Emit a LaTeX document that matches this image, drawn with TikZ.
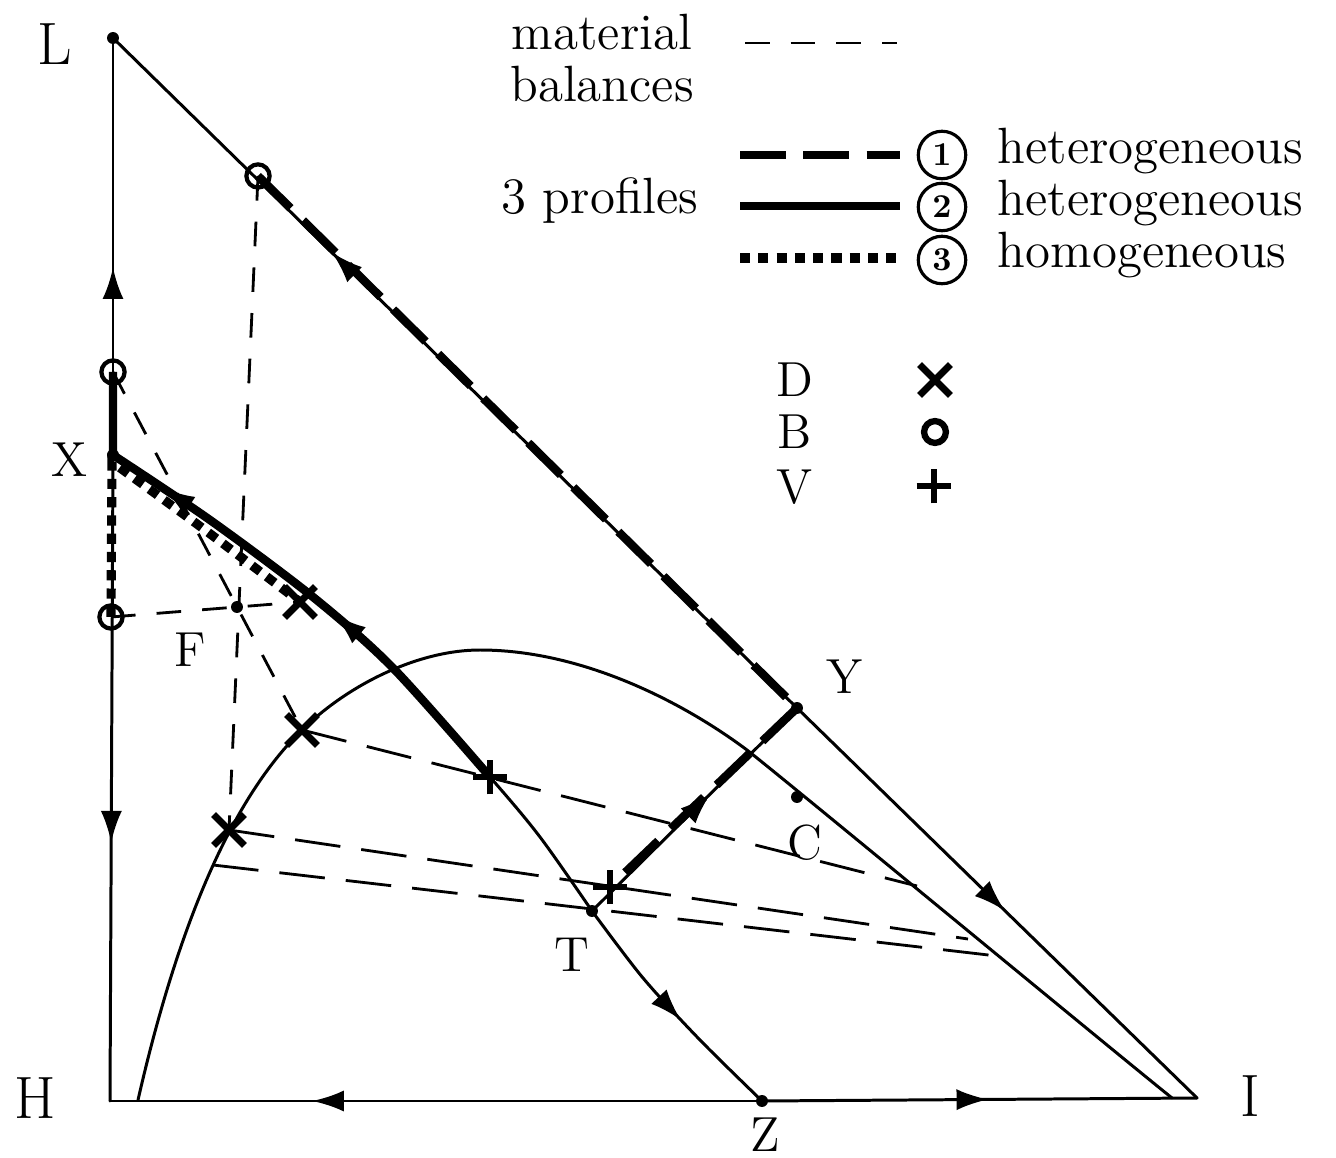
\documentclass[tikz,border=0pt]{standalone}
\usepackage{tikz}
\usetikzlibrary{arrows.meta,shapes.misc,decorations.markings}

\begin{document}
\begin{tikzpicture}[
  x=0.01cm, y=-0.01cm,
  sideln/.style   = {line width=0.85pt, line cap=round},
  bal/.style      = {line width=0.8pt, dash pattern=on 7pt off 6pt},
  tie/.style      = {line width=0.8pt, dash pattern=on 13pt off 6pt},
  profA/.style    = {line width=2.4pt, dash pattern=on 13pt off 5pt},
  profB/.style    = {line width=2.4pt},
  profC/.style    = {line width=2.6pt, dash pattern=on 2.9pt off 2.3pt},
  dot/.style      = {circle, fill, inner sep=0pt, minimum size=3.4pt},
  bmark/.style    = {circle, draw, line width=1.2pt, inner sep=0pt, minimum size=6.6pt},
  dmark/.style    = {cross out, draw, line width=2pt, inner sep=0pt, minimum size=6.8pt},
  vmark/.style    = {cross out, draw, rotate=45, line width=1.8pt, inner sep=0pt, minimum size=5.2pt},
  numc/.style     = {circle, draw, line width=0.9pt, inner sep=0pt, minimum size=13.5pt,
                     font=\fontsize{9.5}{9.5}\selectfont\bfseries},
  lbl/.style      = {font=\fontsize{14}{16}\selectfont, inner sep=0pt},
  biglbl/.style   = {font=\fontsize{17}{20}\selectfont, inner sep=0pt},
  legtext/.style  = {font=\fontsize{14.5}{14.8}\selectfont, inner sep=0pt},
  midarrow/.style = {postaction={decorate, decoration={markings,
                     mark=at position #1 with {\arrow{Latex[length=9pt,width=6pt]}}}}},
]
\useasboundingbox (0,0) rectangle (1336,1158);

%% --- points of the diagram ---------------------------------------------
\coordinate (L) at (113,38);
\coordinate (H) at (110,1101);
\coordinate (I) at (1197,1098);
\coordinate (X) at (113,455);
\coordinate (Y) at (797,708);
\coordinate (Z) at (762,1101);
\coordinate (T) at (592,911);
\coordinate (F) at (237,607);
\coordinate (C) at (797,797);

\coordinate (pb1) at (258,176);
\coordinate (pb2) at (113,372);
\coordinate (pb3) at (111,617);
\coordinate (pd1) at (229,830);
\coordinate (pd2) at (302,730);
\coordinate (pd3) at (300,602);
\coordinate (pv1) at (610,887);
\coordinate (pv2) at (490,777);

\coordinate (e1) at (968,939);
\coordinate (e2) at (917,886);
\coordinate (s3) at (213,865);
\coordinate (e3) at (997,956);

%% --- triangle sides with their arrows --------------------------------------
\draw[sideln, midarrow=0.45] (X) -- (L);
\draw[sideln, midarrow=0.60] (X) -- (H);
\draw[sideln, midarrow=0.69] (Z) -- (H);
\draw[sideln, midarrow=0.52] (Z) -- (I);
\draw[sideln, midarrow=0.68] (Y) -- (L);
\draw[sideln, midarrow=0.52] (Y) -- (I);

%% --- residue curves through T ---------------------------------------------
\draw[sideln, midarrow=0.55]
  plot[smooth] coordinates {(T) (643,978) (700,1040) (Z)};
\draw[sideln, midarrow=0.59, midarrow=0.91]
  plot[smooth] coordinates {(T) (540,837) (pv2) (393,668) (313,597) (210,520) (X)};
\draw[sideln, midarrow=0.58] (T) -- (Y);

%% --- binodal curve ---------------------------------------------------------
\draw[sideln] (138,1100) .. controls (170,960) and (220,810) .. (pd2)
  .. controls (350,683) and (420,650) .. (480,650)
  .. controls (580,650) and (680,700) .. (747,750)
  .. controls (800,792) and (1100,1040) .. (1172,1098);

%% --- material balances and tie lines ---------------------------------------
\draw[bal] (pb1) -- (pd1);
\draw[bal] (pb2) -- (pd2);
\draw[bal] (pb3) -- (pd3);
\draw[tie] (pd2) -- (e2);
\draw[tie] (pd1) -- (e1);
\draw[tie] (s3) -- (e3);

%% --- the three profiles ----------------------------------------------------
\draw[profA] (pb1) -- (Y) -- (pv1);
\draw[profB] (pb2) -- (X) -- plot[smooth] coordinates {(X) (210,520) (313,597) (393,668) (pv2)};
\draw[profC] (pb3) -- (112,462) -- plot[smooth] coordinates {(112,462) (205,530) (pd3)};

%% --- dots, markers and labels ----------------------------------------------
\foreach \p in {L,X,Y,Z,T,F,C}
  \node[dot] (\p dot) at (\p) {};

\node[bmark] (b1) at (pb1) {};
\node[bmark] (b2) at (pb2) {};
\node[bmark] (b3) at (pb3) {};
\node[dmark] (d1) at (pd1) {};
\node[dmark] (d2) at (pd2) {};
\node[dmark] (d3) at (pd3) {};
\node[vmark] (v1) at (pv1) {};
\node[vmark] (v2) at (pv2) {};

\node[biglbl] (Llbl) at (55,44) {L};
\node[biglbl] (Hlbl) at (35,1098) {H};
\node[biglbl] (Ilbl) at (1250,1096) {I};
\node[lbl] (Xlbl) at (70,460) {X};
\node[lbl] (Flbl) at (190,650) {F};
\node[lbl] (Ylbl) at (845,677) {Y};
\node[lbl] (Clbl) at (805,843) {C};
\node[lbl] (Tlbl) at (572,955) {T};
\node[lbl] (Zlbl) at (765,1135) {Z};

%% --- legend ----------------------------------------------------------------
\node[legtext, align=center] (matbal) at (602,58) {material\\balances};
\node[legtext] (profs) at (600,201) {3 profiles};

\coordinate (lg0a) at (745,43);  \coordinate (lg0b) at (897,43);
\coordinate (lg1a) at (740,155); \coordinate (lg1b) at (900,155);
\coordinate (lg2a) at (740,206); \coordinate (lg2b) at (900,206);
\coordinate (lg3a) at (740,258); \coordinate (lg3b) at (900,258);
\draw[bal] (lg0a) -- (lg0b);
\draw[profA] (lg1a) -- (lg1b);
\draw[profB] (lg2a) -- (lg2b);
\draw[profC] (lg3a) -- (lg3b);

\node[numc] (n1) at (942,155) {1};
\node[numc] (n2) at (942,207) {2};
\node[numc] (n3) at (942,260) {3};
\node[legtext, anchor=base west] (het1) at (997,164) {heterogeneous};
\node[legtext, anchor=base west] (het2) at (997,216) {heterogeneous};
\node[legtext, anchor=base west] (hom3) at (997,268) {homogeneous};

\node[lbl] (Dkey) at (795,380) {D};
\node[lbl] (Bkey) at (795,432) {B};
\node[lbl] (Vkey) at (795,487) {V};
\node[dmark] (Dsym) at (935,380) {};
\node[bmark, line width=1.8pt, minimum size=6.2pt] (Bsym) at (935,432) {};
\node[vmark] (Vsym) at (934,486) {};

\end{tikzpicture}
\end{document}
